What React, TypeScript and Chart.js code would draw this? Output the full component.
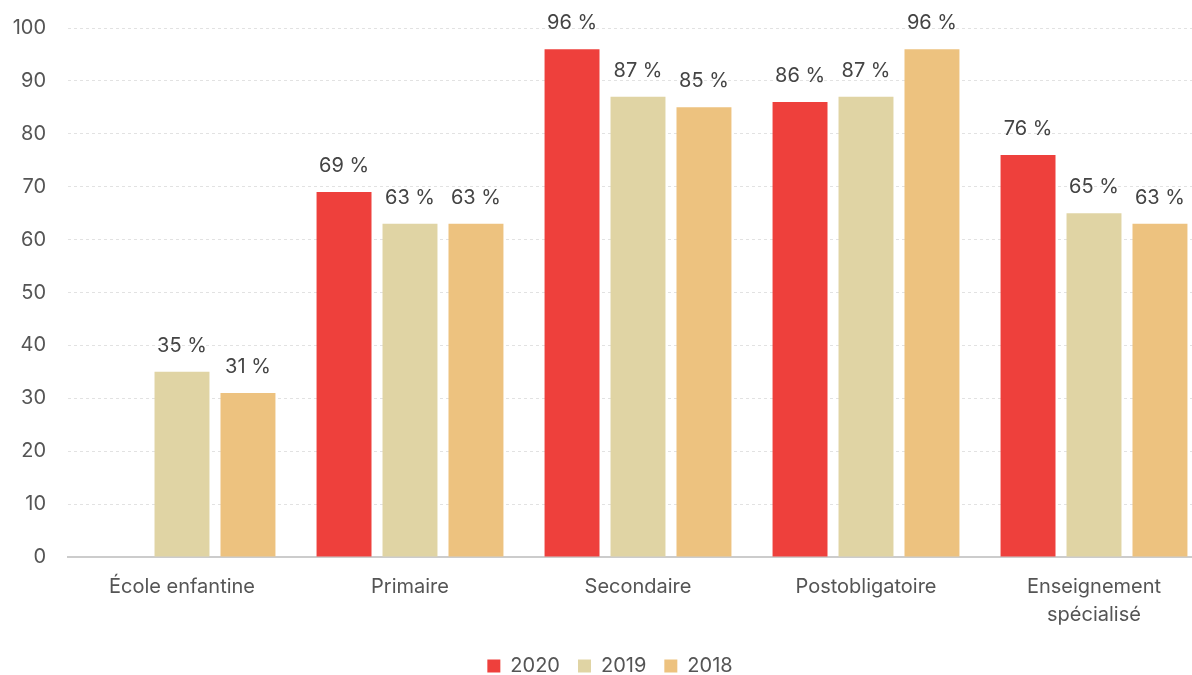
import React, { useEffect, useRef } from "react";
import { Chart, registerables } from "chart.js";

Chart.register(...registerables);

const categories: (string | string[])[] = [
  "École enfantine",
  "Primaire",
  "Secondaire",
  "Postobligatoire",
  ["Enseignement", "spécialisé"],
];
const values2020: (number | null)[] = [null, 69, 96, 86, 76];
const values2019: number[] = [35, 63, 87, 87, 65];
const values2018: number[] = [31, 63, 85, 96, 63];
const yTicks: number[] = [0, 10, 20, 30, 40, 50, 60, 70, 80, 90, 100];

const FONT = "Inter, 'Noto Sans', sans-serif";
const TEXT = "#555555";

const labelPlugin = {
  id: "barValueLabels",
  afterDatasetsDraw(chart: any) {
    const ctx = chart.ctx;
    ctx.save();
    ctx.font = `20px ${FONT}`;
    ctx.fillStyle = "#444444";
    ctx.textAlign = "center";
    ctx.textBaseline = "bottom";
    chart.data.datasets.forEach((ds: any, i: number) => {
      const meta = chart.getDatasetMeta(i);
      meta.data.forEach((bar: any, j: number) => {
        const v = ds.data[j];
        if (v === null || v === undefined) return;
        ctx.fillText(`${v} %`, bar.x, bar.y - 16);
      });
    });
    ctx.restore();
  },
};

const legendHeightPlugin = {
  id: "legendHeight",
  beforeInit(chart: any) {
    const origFit = chart.legend.fit;
    chart.legend.fit = function () {
      origFit.call(this);
      this.height = 37;
    };
  },
};

export default function App() {
  const ref = useRef<HTMLCanvasElement | null>(null);
  useEffect(() => {
    if (!ref.current) return;
    const chart = new Chart(ref.current, {
      type: "bar",
      data: {
        labels: categories,
        datasets: [
          { label: "2020", data: values2020, backgroundColor: "#EE403C" },
          { label: "2019", data: values2019, backgroundColor: "#E0D4A4" },
          { label: "2018", data: values2018, backgroundColor: "#EDC27F" },
        ],
      },
      options: {
        animation: false,
        responsive: true,
        maintainAspectRatio: false,
        layout: { padding: { top: 28, left: 12, right: 2, bottom: 0 } },
        datasets: {
          bar: { categoryPercentage: 0.868, barPercentage: 0.833 },
        },
        plugins: {
          legend: {
            position: "bottom",
            labels: {
              font: { family: FONT, size: 20 },
              color: TEXT,
              boxWidth: 13,
              boxHeight: 13,
              padding: 18,
            },
          },
          tooltip: { enabled: false },
        },
        scales: {
          x: {
            grid: { display: false },
            border: { display: true, color: "#cccccc", width: 2 },
            afterFit: (scale: any) => {
              scale.height = 81;
            },
            ticks: {
              font: { family: FONT, size: 20, lineHeight: 1.4 },
              color: TEXT,
              padding: 8,
              maxRotation: 0,
            },
          },
          y: {
            min: 0,
            max: 100,
            afterBuildTicks: (scale: any) => {
              scale.ticks = yTicks.map((v) => ({ value: v }));
            },
            afterFit: (scale: any) => {
              scale.width = 56;
              scale.paddingTop = 0;
              scale.paddingBottom = 0;
            },
            grid: { color: "#e2e2e2", drawTicks: false, lineWidth: 1 },
            border: { display: false, dash: [3, 3] },
            ticks: {
              font: { family: FONT, size: 20 },
              color: TEXT,
              padding: 22,
            },
          },
        },
      },
      plugins: [labelPlugin, legendHeightPlugin],
    });
    return () => chart.destroy();
  }, []);

  return (
    <div
      style={{
        position: "absolute",
        left: 0,
        top: 0,
        width: 1192,
        height: 675,
        overflow: "hidden",
        background: "#fff",
      }}
    >
      <div style={{ position: "relative", width: 1210, height: 675 }}>
        <canvas ref={ref} />
      </div>
    </div>
  );
}
